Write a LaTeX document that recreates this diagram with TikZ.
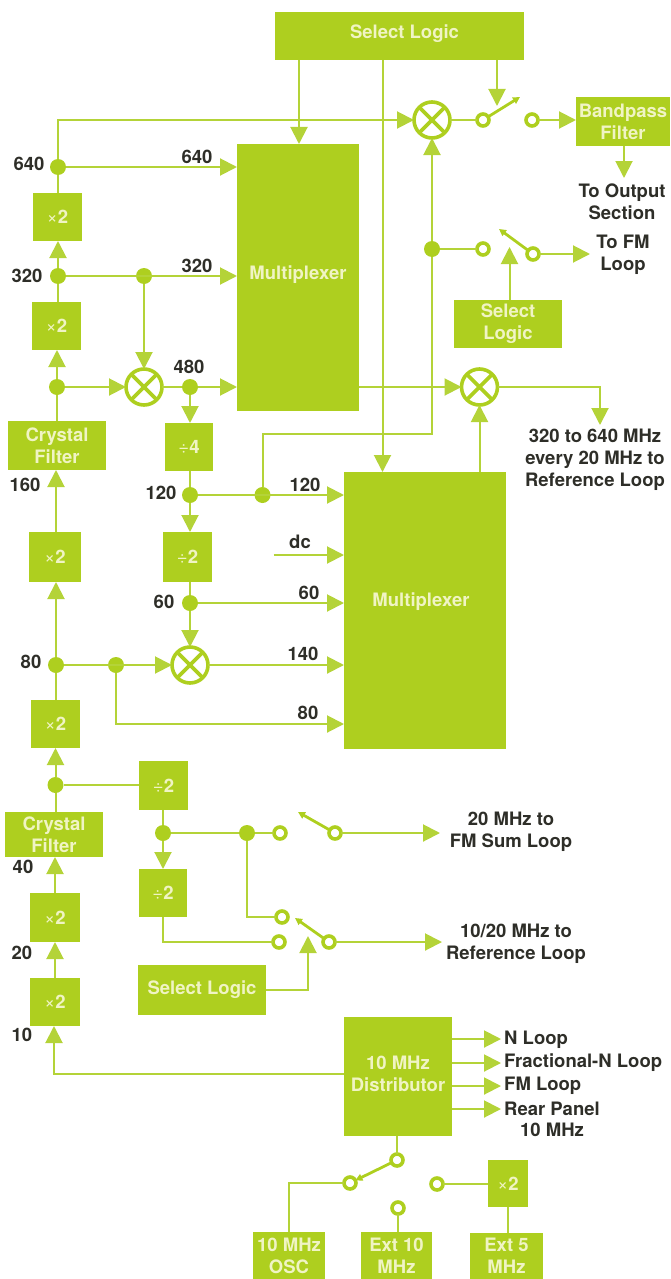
\documentclass[tikz,border=0pt]{standalone}
\usepackage{fontspec}
\setmainfont{TeX Gyre Heros}
\usetikzlibrary{arrows.meta}
\definecolor{grn}{HTML}{AECF1F}
\definecolor{wire}{HTML}{B4D338}
\definecolor{ink}{HTML}{2E2E28}
\definecolor{cream}{HTML}{F0F4C4}
\newcommand{\mulx}{{\mdseries ×}2}
\newcommand{\divd}[1]{{\mdseries ÷}#1}
\tikzset{
  x=1pt,y=-1pt,
  blk/.style={fill=grn,inner sep=0pt,outer sep=0pt,align=center,text=cream,font=\fontsize{18.5}{22}\selectfont\bfseries},
  blktext/.style={inner sep=0pt,align=center,text=cream,font=\fontsize{18.5}{22}\selectfont\bfseries},
  lab/.style={inner sep=0pt,align=center,text=ink,font=\fontsize{18.5}{22}\selectfont\bfseries},
  dotn/.style={circle,fill=grn,minimum size=16,inner sep=0pt,outer sep=0pt},
  contact/.style={circle,draw=grn,line width=3.6pt,fill=white,minimum size=12,inner sep=0pt,outer sep=0pt},
  mixer/.style={circle,draw=grn,line width=3.6pt,fill=white,minimum size=36,inner sep=0pt,outer sep=0pt,
    path picture={\draw[grn,line width=3.6pt]
      (path picture bounding box.north west)--(path picture bounding box.south east)
      (path picture bounding box.north east)--(path picture bounding box.south west);}},
  wirel/.style={wire,line width=2pt},
  arr/.style={wirel,-{Triangle[length=17pt,width=17pt]}},
  arm/.style={grn,line width=2.8pt,-{Triangle[length=7pt,width=7pt]}},
}
\begin{document}
\begin{tikzpicture}
\useasboundingbox (0,0) rectangle (670,1279);
% blocks
\node[blk,minimum width=249,minimum height=48] (selA) at (399.5,36) {};
\node[blk,minimum width=122,minimum height=267] (muxA) at (298,277.5) {};
\node[blk,minimum width=94,minimum height=49] (bpf) at (623,121.5) {Bandpass\\Filter};
\node[blk,minimum width=49,minimum height=48] (xA) at (57.5,217) {\mulx};
\node[blk,minimum width=49,minimum height=48] (xB) at (56.5,326) {\mulx};
\node[blk,minimum width=98,minimum height=49] (cfA) at (57,445.5) {Crystal\\Filter};
\node[blk,minimum width=48,minimum height=48] (dvA) at (189,447) {\divd{4}};
\node[blk,minimum width=108,minimum height=48] (selB) at (508,324) {Select\\Logic};
\node[blk,minimum width=162,minimum height=277] (muxB) at (425,610.5) {};
\node[blk,minimum width=52,minimum height=50] (xC) at (55,557) {\mulx};
\node[blk,minimum width=49,minimum height=50] (dvB) at (187.5,557) {\divd{2}};
\node[blk,minimum width=49,minimum height=48] (xD) at (55.5,724) {\mulx};
\node[blk,minimum width=49,minimum height=49] (dvC) at (163.5,785.5) {\divd{2}};
\node[blk,minimum width=98,minimum height=45] (cfB) at (54,834.5) {Crystal\\Filter};
\node[blk,minimum width=48,minimum height=48] (dvD) at (163,893) {\divd{2}};
\node[blk,minimum width=50,minimum height=49] (xE) at (55,917.5) {\mulx};
\node[blk,minimum width=50,minimum height=48] (xF) at (55,1002) {\mulx};
\node[blk,minimum width=128,minimum height=50] (selC) at (202,990) {Select Logic};
\node[blk,minimum width=108,minimum height=119] (dist) at (398,1076.5) {};
\node[blk,minimum width=40,minimum height=47] (xG) at (508,1183.5) {\mulx};
\node[blk,minimum width=72,minimum height=47] (osc) at (289,1255.5) {10 MHz\\OSC};
\node[blk,minimum width=71,minimum height=47] (ext10) at (396.5,1255.5) {Ext 10\\MHz};
\node[blk,minimum width=73,minimum height=46] (ext5) at (506.5,1256) {Ext 5\\MHz};
% block titles set off-centre, as printed
\node[blktext] (tselA) at (404.5,34) {Select Logic};
\node[blktext] (tmuxA) at (298,275) {Multiplexer};
\node[blktext] (tmuxB) at (421,602) {Multiplexer};
\node[blktext] (tdist) at (398,1074) {10 MHz\\Distributor};
% mixers
\node[mixer] (mA) at (432,120) {};
\node[mixer] (mB) at (144,387) {};
\node[mixer] (mC) at (479.5,387) {};
\node[mixer] (mD) at (190,665) {};
% junction dots
\node[dotn] (d640) at (58,167) {};
\node[dotn] (d320) at (58,276) {};
\node[dotn] (dcf) at (57,387) {};
\node[dotn] (d320b) at (144,276) {};
\node[dotn] (d480) at (190,387) {};
\node[dotn] (dfm) at (432,249) {};
\node[dotn] (d120) at (190,495) {};
\node[dotn] (d120b) at (262.5,495) {};
\node[dotn] (d60) at (190,603) {};
\node[dotn] (d80) at (56,665) {};
\node[dotn] (d80b) at (116,665) {};
\node[dotn] (d40) at (55.5,785) {};
\node[dotn] (d20) at (163,833) {};
\node[dotn] (d20b) at (247,833) {};
% switch contacts
\node[contact] (sAa) at (483,120) {};
\node[contact] (sAb) at (532,120) {};
\node[contact] (sBa) at (483,249) {};
\node[contact] (sBb) at (533,254) {};
\node[contact] (sCa) at (280,833) {};
\node[contact] (sCb) at (335,833) {};
\node[contact] (sDa) at (282,917) {};
\node[contact] (sDb) at (279,942) {};
\node[contact] (sDc) at (329,942) {};
\node[contact] (sEa) at (397,1160) {};
\node[contact] (sEb) at (350,1183) {};
\node[contact] (sEc) at (398,1208) {};
\node[contact] (sEd) at (437,1184) {};
% free ends
\coordinate (armA) at (520,97);
\coordinate (armB) at (499,229);
\coordinate (armC) at (298,812);
\coordinate (armD) at (295,918);
\coordinate (dcin) at (273.5,555);
\coordinate (cFM) at (590,254);
\coordinate (cOut) at (624,178);
\coordinate (cRefA) at (600,425);
\coordinate (cFMS) at (440,833);
\coordinate (cRefB) at (442,942);
\coordinate (oN) at (501,1039);
\coordinate (oF) at (501,1063);
\coordinate (oM) at (501,1086);
\coordinate (oR) at (501,1109);
% switch arms
\draw[arm] (sAa) -- (armA);
\draw[arm] (sBb) -- (armB);
\draw[arm] (sCb) -- (armC);
\draw[arm] (sDc) -- (armD);
\draw[arm] (sEa) -- (sEb);
% connectors
\draw[arr] (selA.south -| 299,0) -- (muxA.north -| 299,0);
\draw[arr] (selA.south -| 382.5,0) -- (muxB.north -| 382.5,0);
\draw[arr] (selA.south -| 497,0) -- (497,106);
\draw[wirel] (d640) -- (xA.north -| d640);
\draw[arr] (d320) -- (xA.south -| d320);
\draw[wirel] (d320) -- (xB.north -| d320);
\draw[arr] (dcf) -- (xB.south -| dcf);
\draw[wirel] (cfA.north -| dcf) -- (dcf);
\draw[arr] (d640) |- (mA);
\draw[arr] (d640) -- (muxA.west |- d640);
\draw[arr] (d320) -- (muxA.west |- d320);
\draw[arr] (d320b) -- (mB);
\draw[arr] (dcf) -- (mB);
\draw[wirel] (mB) -- (d480);
\draw[arr] (d480) -- (muxA.west |- d480);
\draw[arr] (d480) -- (dvA.north -| d480);
\draw[wirel] (dvA.south -| d120) -- (d120);
\draw[arr] (d120) -- (dvB.north -| d120);
\draw[wirel] (dvB.south -| d60) -- (d60);
\draw[arr] (d60) -- (mD);
\draw[arr] (d120) -- (muxB.west |- d120);
\draw[arr] (dcin) -- (muxB.west |- dcin);
\draw[arr] (d60) -- (muxB.west |- d60);
\draw[arr] (mD) -- (muxB.west |- mD);
\draw[arr] (d80) -- (mD);
\draw[arr] (d80b) |- (muxB.west |- 0,724);
\draw[arr] (d80) -- (xC.south -| d80);
\draw[arr] (xC.north -| d80) -- (cfA.south -| d80);
\draw[wirel] (d120b) |- (432,434) -- (dfm);
\draw[arr] (dfm) -- (mA);
\draw[wirel] (dfm) -- (sBa);
\draw[arr] (muxA.east |- mC) -- (mC);
\draw[arr] (muxB.north -| mC) -- (mC);
\draw[arr] (mC) -| (cRefA);
\draw[wirel] (mA) -- (sAa);
\draw[arr] (sAb) -- (bpf.west |- sAb);
\draw[arr] (bpf.south -| cOut) -- (cOut);
\draw[arr] (sBb) -- (cFM);
\draw[arr] (selB.north -| 509.5,0) -- (509.5,247);
% lower left chain
\draw[arr] (d40) -- (xD.south -| d40);
\draw[wirel] (d40) -- (dvC.west |- d40);
\draw[wirel] (cfB.north -| d40) -- (d40);
\draw[wirel] (xD.north -| d80) -- (d80);
\draw[arr] (xE.north -| 55,0) -- (cfB.south -| 55,0);
\draw[arr] (xF.north -| 55,0) -- (xE.south -| 55,0);
\draw[wirel] (dvC.south -| d20) -- (d20);
\draw[arr] (d20) -- (dvD.north -| d20);
\draw[wirel] (d20) -- (d20b);
\draw[wirel] (d20b) -- (sCa);
\draw[wirel] (d20b) |- (sDa);
\draw[wirel] (dvD.south -| d20) |- (sDb);
\draw[arr] (sCb) -- (cFMS);
\draw[arr] (sDc) -- (cRefB);
\draw[arr] (selC.east |- 0,990) -| (308,936);
\draw[arr] (dist.west |- 0,1074) -| (xF.south -| 54,0);
\draw[arr] (dist.east |- oN) -- (oN);
\draw[arr] (dist.east |- oF) -- (oF);
\draw[arr] (dist.east |- oM) -- (oM);
\draw[arr] (dist.east |- oR) -- (oR);
\draw[wirel] (dist.south -| sEa) -- (sEa);
\draw[wirel] (sEb) -| (osc.north);
\draw[wirel] (sEc) -- (ext10.north -| sEc);
\draw[wirel] (sEd) -- (xG.west |- sEd);
\draw[wirel] (xG) -- (ext5.north -| xG);
% labels
\node[lab] (l640) at (29,164) {640};
\node[lab] (l320) at (27,276) {320};
\node[lab] (l640b) at (197,157) {640};
\node[lab] (l320b) at (197,266) {320};
\node[lab] (l480) at (189,367) {480};
\node[lab] (l160) at (25,485) {160};
\node[lab] (l120) at (161,493) {120};
\node[lab] (l120b) at (305,485) {120};
\node[lab] (ldc) at (300,542) {dc};
\node[lab] (l60b) at (309,593) {60};
\node[lab] (l60) at (164,602) {60};
\node[lab] (l140) at (303,654) {140};
\node[lab] (l80b) at (308,713) {80};
\node[lab] (l80) at (31,662) {80};
\node[lab] (l40) at (23,867) {40};
\node[lab] (l20) at (22,953) {20};
\node[lab] (l10) at (22,1035) {10};
\node[lab] (tOut) at (622,202) {To Output\\Section};
\node[lab] (tFM) at (623,255) {To FM\\Loop};
\node[lab] (tRefA) at (595,460) {320 to 640 MHz\\every 20 MHz to\\Reference Loop};
\node[lab] (tFMS) at (511,832) {20 MHz to\\FM Sum Loop};
\node[lab] (tRefB) at (516,944) {10/20 MHz to\\Reference Loop};
\node[lab,anchor=west] (tN) at (504,1040) {N Loop};
\node[lab,anchor=west] (tF) at (504,1063) {Fractional-N Loop};
\node[lab,anchor=west] (tM) at (504,1086) {FM Loop};
\node[lab,anchor=west] (tR) at (504,1109) {Rear Panel};
\node[lab] (tRb) at (552,1130) {10 MHz};
\end{tikzpicture}
\end{document}
